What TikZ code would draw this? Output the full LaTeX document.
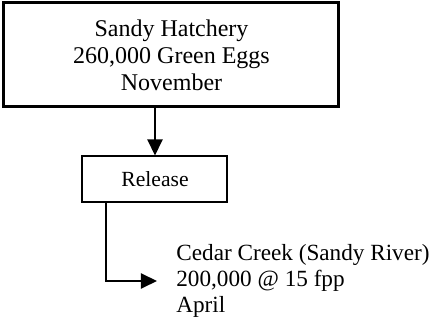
\documentclass[tikz,border=0pt]{standalone}
\usepackage{fontspec}
\setmainfont{Liberation Serif}
\usetikzlibrary{arrows.meta,calc}
\begin{document}
\begin{tikzpicture}[x=0.5pt,y=-0.5pt,
  bigbox/.style={draw,line width=1.5pt,minimum width=167.5pt,minimum height=52pt,align=center,inner sep=0pt,font=\fontsize{12}{13.5}\selectfont},
  smallbox/.style={draw,line width=1pt,minimum width=72.5pt,minimum height=23pt,inner sep=0pt,font=\fontsize{10.8}{12}\selectfont},
  plain/.style={align=left,inner sep=0pt,font=\fontsize{11.6}{13}\selectfont},
  arr/.style={line width=1pt,-{Triangle[length=8pt,width=7.5pt]}}]
\useasboundingbox (0,0) rectangle (436,321);
\node[bigbox] (top) at (171.5,55) {Sandy Hatchery\\260,000 Green Eggs\\November};
\node[smallbox] (rel) at (155,179.5) {Release};
\node[plain,anchor=west] (dest) at (176,281) {Cedar Creek (Sandy River)\\200,000 @ 15 fpp\\April};
\coordinate (tip) at (157,281);
\draw[arr] (rel.north |- top.south) -- (rel.north);
\draw[arr] ($(rel.south west)+(25,0)$) |- (tip);
\end{tikzpicture}
\end{document}
